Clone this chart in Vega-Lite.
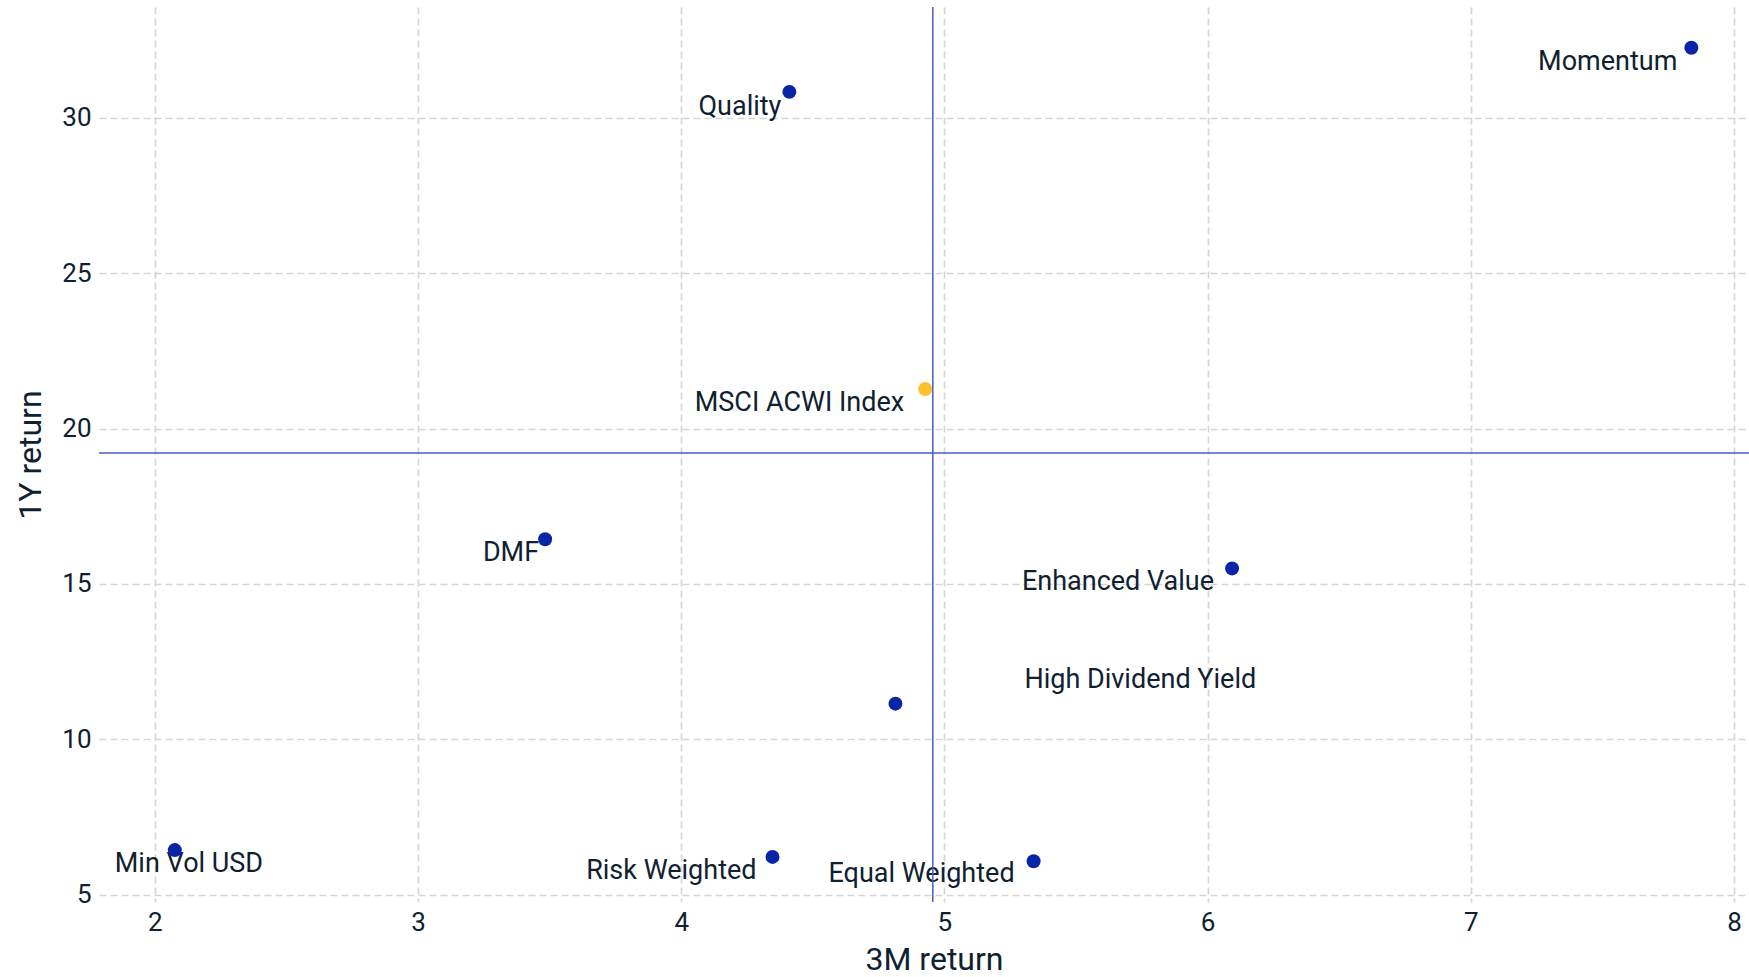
{
  "$schema": "https://vega.github.io/schema/vega-lite/v6.json",
  "width": 1650,
  "height": 895,
  "autosize": {"type": "none"},
  "padding": {"left": 99, "top": 7, "right": 0, "bottom": 75},
  "background": "white",
  "config": {
    "view": {"stroke": null},
    "font": "Roboto",
    "axis": {
      "labelFont": "Roboto",
      "labelFontSize": 26,
      "labelColor": "#0F2130",
      "titleFont": "Roboto",
      "titleFontSize": 32,
      "titleFontWeight": "normal",
      "titleColor": "#0F2130",
      "ticks": false,
      "domain": false,
      "gridColor": "#D6D6D6",
      "gridDash": [7, 4],
      "gridWidth": 1.7
    }
  },
  "datasets": {
    "pts": [
      {"name": "Momentum", "ret3m": 7.838, "ret1y": 32.25, "group": "Factor"},
      {"name": "Quality", "ret3m": 4.411, "ret1y": 30.83, "group": "Factor"},
      {"name": "MSCI ACWI Index", "ret3m": 4.927, "ret1y": 21.27, "group": "Index"},
      {"name": "DMF", "ret3m": 3.483, "ret1y": 16.44, "group": "Factor"},
      {"name": "Enhanced Value", "ret3m": 6.093, "ret1y": 15.50, "group": "Factor"},
      {"name": "High Dividend Yield", "ret3m": 4.814, "ret1y": 11.15, "group": "Factor"},
      {"name": "Min Vol USD", "ret3m": 2.076, "ret1y": 6.44, "group": "Factor"},
      {"name": "Risk Weighted", "ret3m": 4.347, "ret1y": 6.22, "group": "Factor"},
      {"name": "Equal Weighted", "ret3m": 5.339, "ret1y": 6.08, "group": "Factor"}
    ],
    "refs": [
      {"ref3m": 4.956, "ref1y": 19.21}
    ]
  },
  "layer": [
    {
      "data": {"name": "pts"},
      "mark": {"type": "point", "opacity": 0},
      "encoding": {
        "x": {"field": "ret3m", "type": "quantitative", "title": "3M return",
              "scale": {"domain": [1.788, 8.057], "nice": false, "zero": false},
              "axis": {"values": [2, 3, 4, 5, 6, 7, 8], "format": "d", "labelPadding": 7, "titlePadding": 9, "titleX": 835, "titleAlign": "center"}},
        "y": {"field": "ret1y", "type": "quantitative", "title": "1Y return",
              "scale": {"domain": [4.77, 33.56], "nice": false, "zero": false},
              "axis": {"values": [5, 10, 15, 20, 25, 30], "format": "d", "labelPadding": 8, "titlePadding": 14}}
      }
    },
    {"data": {"name": "pts"}, "transform": [{"filter": "datum.name == 'Momentum'"}],
     "mark": {"type": "text", "align": "right", "baseline": "middle", "dx": -14, "dy": 14, "fontSize": 27, "font": "Roboto", "color": "#0F2130"},
     "encoding": {"x": {"field": "ret3m", "type": "quantitative"}, "y": {"field": "ret1y", "type": "quantitative"}, "text": {"field": "name"}}},
    {"data": {"name": "pts"}, "transform": [{"filter": "datum.name == 'Quality'"}],
     "mark": {"type": "text", "align": "right", "baseline": "middle", "dx": -8, "dy": 15, "fontSize": 27, "font": "Roboto", "color": "#0F2130"},
     "encoding": {"x": {"field": "ret3m", "type": "quantitative"}, "y": {"field": "ret1y", "type": "quantitative"}, "text": {"field": "name"}}},
    {"data": {"name": "pts"}, "transform": [{"filter": "datum.name == 'MSCI ACWI Index'"}],
     "mark": {"type": "text", "align": "right", "baseline": "middle", "dx": -21, "dy": 14, "fontSize": 27, "font": "Roboto", "color": "#0F2130"},
     "encoding": {"x": {"field": "ret3m", "type": "quantitative"}, "y": {"field": "ret1y", "type": "quantitative"}, "text": {"field": "name"}}},
    {"data": {"name": "pts"}, "transform": [{"filter": "datum.name == 'DMF'"}],
     "mark": {"type": "text", "align": "right", "baseline": "middle", "dx": -6, "dy": 14, "fontSize": 27, "font": "Roboto", "color": "#0F2130"},
     "encoding": {"x": {"field": "ret3m", "type": "quantitative"}, "y": {"field": "ret1y", "type": "quantitative"}, "text": {"field": "name"}}},
    {"data": {"name": "pts"}, "transform": [{"filter": "datum.name == 'Enhanced Value'"}],
     "mark": {"type": "text", "align": "right", "baseline": "middle", "dx": -18, "dy": 14, "fontSize": 27, "font": "Roboto", "color": "#0F2130"},
     "encoding": {"x": {"field": "ret3m", "type": "quantitative"}, "y": {"field": "ret1y", "type": "quantitative"}, "text": {"field": "name"}}},
    {"data": {"name": "pts"}, "transform": [{"filter": "datum.name == 'High Dividend Yield'"}],
     "mark": {"type": "text", "align": "left", "baseline": "middle", "dx": 129, "dy": -24, "fontSize": 27, "font": "Roboto", "color": "#0F2130"},
     "encoding": {"x": {"field": "ret3m", "type": "quantitative"}, "y": {"field": "ret1y", "type": "quantitative"}, "text": {"field": "name"}}},
    {"data": {"name": "pts"}, "transform": [{"filter": "datum.name == 'Min Vol USD'"}],
     "mark": {"type": "text", "align": "left", "baseline": "middle", "dx": -60, "dy": 14, "fontSize": 27, "font": "Roboto", "color": "#0F2130"},
     "encoding": {"x": {"field": "ret3m", "type": "quantitative"}, "y": {"field": "ret1y", "type": "quantitative"}, "text": {"field": "name"}}},
    {"data": {"name": "pts"}, "transform": [{"filter": "datum.name == 'Risk Weighted'"}],
     "mark": {"type": "text", "align": "right", "baseline": "middle", "dx": -16, "dy": 14, "fontSize": 27, "font": "Roboto", "color": "#0F2130"},
     "encoding": {"x": {"field": "ret3m", "type": "quantitative"}, "y": {"field": "ret1y", "type": "quantitative"}, "text": {"field": "name"}}},
    {"data": {"name": "pts"}, "transform": [{"filter": "datum.name == 'Equal Weighted'"}],
     "mark": {"type": "text", "align": "right", "baseline": "middle", "dx": -19, "dy": 13, "fontSize": 27, "font": "Roboto", "color": "#0F2130"},
     "encoding": {"x": {"field": "ret3m", "type": "quantitative"}, "y": {"field": "ret1y", "type": "quantitative"}, "text": {"field": "name"}}},
    {
      "data": {"name": "refs"},
      "mark": {"type": "rule", "color": "#4A5CC5", "strokeWidth": 1.5},
      "encoding": {"x": {"field": "ref3m", "type": "quantitative"}}
    },
    {
      "data": {"name": "refs"},
      "mark": {"type": "rule", "color": "#4A5CC5", "strokeWidth": 1.5},
      "encoding": {"y": {"field": "ref1y", "type": "quantitative"}}
    },
    {
      "data": {"name": "pts"},
      "mark": {"type": "circle", "size": 195, "opacity": 1},
      "encoding": {
        "x": {"field": "ret3m", "type": "quantitative"},
        "y": {"field": "ret1y", "type": "quantitative"},
        "color": {"field": "group", "type": "nominal", "legend": null,
                  "scale": {"domain": ["Factor", "Index"], "range": ["#0A24A8", "#FCC22E"]}}
      }
    }
  ]
}
